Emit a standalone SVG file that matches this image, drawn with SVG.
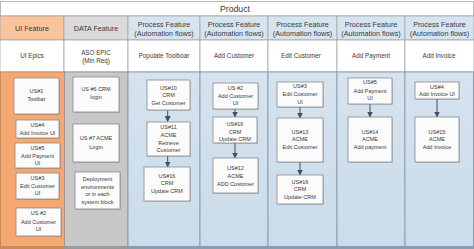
<svg xmlns="http://www.w3.org/2000/svg" width="474" height="249" viewBox="0 0 474 249">
<defs>
<style>
text{font-family:"Liberation Sans",Arial,sans-serif;fill:#3a3a3a;text-anchor:middle}
.h{font-size:7.2px}
.r{font-size:6.3px}
.b{font-size:5.5px}
.t{font-size:8.7px;text-anchor:start}
.box{fill:#fbfbfb;stroke:#8a8a8a;stroke-width:0.8}
.sh{fill:#000;opacity:0.12}
.conn line{stroke:#3e5063;stroke-width:1}
.cell{stroke:#a6a6a6;stroke-width:0.8}
</style>
<marker id="ah" viewBox="0 0 6 6" refX="5.5" refY="3" markerWidth="6" markerHeight="6" markerUnits="userSpaceOnUse" orient="auto">
<path d="M0,0 L6,3 L0,6 Z" fill="#3e5063"/>
</marker>
<linearGradient id="gb" x1="0" y1="0" x2="0" y2="1"><stop offset="0" stop-color="#d6e3ef"/><stop offset="1" stop-color="#cbdbe9"/></linearGradient>
</defs>
<rect x="0" y="0" width="474" height="249" fill="#ffffff"/>
<!-- title bar -->
<rect x="0.5" y="1.5" width="473" height="14.5" fill="#ffffff" stroke="#a6a6a6" stroke-width="0.8"/>
<text class="t" x="220" y="12">Product</text>
<!-- header row -->
<g id="headers">
<rect class="cell" x="0" y="16" width="64" height="24" fill="#f8c49c"/>
<rect class="cell" x="64" y="16" width="64" height="24" fill="#dadada"/>
<rect class="cell" x="128" y="16" width="72" height="24" fill="#d6e4f0"/>
<rect class="cell" x="200" y="16" width="68" height="24" fill="#d6e4f0"/>
<rect class="cell" x="268" y="16" width="69" height="24" fill="#d6e4f0"/>
<rect class="cell" x="337" y="16" width="68" height="24" fill="#d6e4f0"/>
<rect class="cell" x="405" y="16" width="69" height="24" fill="#d6e4f0"/>
<text class="h" x="32" y="30.5">UI Feature</text>
<text class="h" x="96" y="30.5">DATA Feature</text>
<text class="h" x="164" y="26.5">Process Feature</text><text class="h" x="164" y="35.8">(Automation flows)</text>
<text class="h" x="234" y="26.5">Process Feature</text><text class="h" x="234" y="35.8">(Automation flows)</text>
<text class="h" x="302.5" y="26.5">Process Feature</text><text class="h" x="302.5" y="35.8">(Automation flows)</text>
<text class="h" x="371" y="26.5">Process Feature</text><text class="h" x="371" y="35.8">(Automation flows)</text>
<text class="h" x="439.5" y="26.5">Process Feature</text><text class="h" x="439.5" y="35.8">(Automation flows)</text>
</g>
<!-- epic row -->
<g id="epics">
<rect class="cell" x="0" y="40" width="64" height="32" fill="#ffffff"/>
<rect class="cell" x="64" y="40" width="64" height="32" fill="#ffffff"/>
<rect class="cell" x="128" y="40" width="72" height="32" fill="#ffffff"/>
<rect class="cell" x="200" y="40" width="68" height="32" fill="#ffffff"/>
<rect class="cell" x="268" y="40" width="69" height="32" fill="#ffffff"/>
<rect class="cell" x="337" y="40" width="68" height="32" fill="#ffffff"/>
<rect class="cell" x="405" y="40" width="69" height="32" fill="#ffffff"/>
<text class="r" x="32" y="58.2">UI Epics</text>
<text class="r" x="96" y="55">ASO EPIC</text><text class="r" x="96" y="63">(Min Req)</text>
<text class="r" x="164" y="58.2">Populate Toolboar</text>
<text class="r" x="234" y="58.2">Add Customer</text>
<text class="r" x="301" y="58.2">Edit Customer</text>
<text class="r" x="371" y="58.2">Add Payment</text>
<text class="r" x="439" y="58.2">Add Invoice</text>
</g>
<!-- body columns -->
<g id="lanes">
<rect x="0.5" y="72" width="64" height="176" fill="#f5a872" stroke="#c98b5c" stroke-width="1"/>
<rect x="64.5" y="72" width="63.5" height="176" fill="#c8c8c8" stroke="#9a9a9a" stroke-width="1"/>
<rect x="128" y="72" width="72" height="176" fill="url(#gb)" stroke="#8b9fb2" stroke-width="1"/>
<rect x="200" y="72" width="68" height="176" fill="url(#gb)" stroke="#8b9fb2" stroke-width="1"/>
<rect x="268" y="72" width="69" height="176" fill="url(#gb)" stroke="#8b9fb2" stroke-width="1"/>
<rect x="337" y="72" width="68" height="176" fill="url(#gb)" stroke="#8b9fb2" stroke-width="1"/>
<rect x="405" y="72" width="68.5" height="176" fill="url(#gb)" stroke="#8b9fb2" stroke-width="1"/>
<rect x="0" y="246" width="474" height="3" fill="#8a9cae"/>
<rect x="0" y="246" width="64" height="3" fill="#c98b5c"/>
<rect x="64" y="246" width="64" height="3" fill="#9a9a9a"/>
</g>
<!-- connectors -->
<g id="connectors" class="conn">
<line x1="167.7" y1="110.5" x2="167.7" y2="121.5" marker-end="url(#ah)"/>
<line x1="167.7" y1="156" x2="167.7" y2="167" marker-end="url(#ah)"/>
<line x1="235" y1="109" x2="235" y2="117" marker-end="url(#ah)"/>
<line x1="235" y1="143" x2="235" y2="158" marker-end="url(#ah)"/>
<line x1="300" y1="107" x2="300" y2="118" marker-end="url(#ah)"/>
<line x1="300" y1="162" x2="300" y2="175" marker-end="url(#ah)"/>
<line x1="370" y1="104" x2="370" y2="117" marker-end="url(#ah)"/>
<line x1="437" y1="99" x2="437" y2="117" marker-end="url(#ah)"/>
</g>
<!-- UI nodes -->
<g id="us1"><rect class="sh" x="15" y="79" width="45" height="36"/><rect class="box" x="14" y="78" width="45" height="36"/><text class="b" x="36.5" y="93">US#1</text><text class="b" x="36.5" y="101.3">Toolbar</text></g>
<g id="us4ui"><rect class="sh" x="17" y="121" width="43" height="18"/><rect class="box" x="16" y="120" width="43" height="18"/><text class="b" x="37.5" y="127">US#4</text><text class="b" x="37.5" y="134.7">Add Invoice UI</text></g>
<g id="us5ui"><rect class="sh" x="16" y="144" width="45" height="25"/><rect class="box" x="15" y="143" width="45" height="25"/><text class="b" x="37.5" y="149.7">US#5</text><text class="b" x="37.5" y="157.7">Add Payment</text><text class="b" x="37.5" y="165.3">UI</text></g>
<g id="us3ui"><rect class="sh" x="17" y="174" width="43" height="26"/><rect class="box" x="16" y="173" width="43" height="26"/><text class="b" x="37.5" y="180.3">US#3</text><text class="b" x="37.5" y="188">Edit Customer</text><text class="b" x="37.5" y="195.3">UI</text></g>
<g id="us2ui"><rect class="sh" x="17" y="209" width="45" height="28"/><rect class="box" x="16" y="208" width="45" height="28"/><text class="b" x="38.5" y="215.3">US #2</text><text class="b" x="38.5" y="223.7">Add Customer</text><text class="b" x="38.5" y="231">UI</text></g>
<!-- DATA nodes -->
<g id="us6"><rect class="sh" x="74" y="78" width="46" height="35"/><rect class="box" x="73" y="77" width="46" height="35"/><text class="b" x="96" y="91.3">US #6 CRM</text><text class="b" x="96" y="99.3">login</text></g>
<g id="us7"><rect class="sh" x="74" y="125" width="46" height="38"/><rect class="box" x="73" y="124" width="46" height="38"/><text class="b" x="96" y="140.3">US #7 ACME</text><text class="b" x="96" y="148.7">Login</text></g>
<g id="deploy"><rect class="sh" x="76" y="173" width="45" height="37"/><rect class="box" x="75" y="172" width="45" height="37"/><text class="b" x="97.5" y="181.3">Deployment</text><text class="b" x="97.5" y="188.7">environments</text><text class="b" x="97.5" y="196.3">or in each</text><text class="b" x="97.5" y="204.3">system block</text></g>
<!-- Process 1 -->
<g id="us10"><rect class="sh" x="148" y="81" width="43" height="30"/><rect class="box" x="147" y="80" width="43" height="30"/><text class="b" x="168.5" y="89.7">US#10</text><text class="b" x="168.5" y="97">CRM</text><text class="b" x="168.5" y="104.7">Get Customer</text></g>
<g id="us11"><rect class="sh" x="148" y="123" width="43" height="34"/><rect class="box" x="147" y="122" width="43" height="34"/><text class="b" x="168.5" y="129.3">US#11</text><text class="b" x="168.5" y="137">ACME</text><text class="b" x="168.5" y="145">Retrieve</text><text class="b" x="168.5" y="152.3">Customer</text></g>
<g id="us16a"><rect class="sh" x="145" y="168" width="46" height="34"/><rect class="box" x="144" y="167" width="46" height="34"/><text class="b" x="167" y="177.7">US#16</text><text class="b" x="167" y="185.3">CRM</text><text class="b" x="167" y="193.3">Update CRM</text></g>
<!-- Process 2 -->
<g id="us2p"><rect class="sh" x="214" y="84" width="45" height="26"/><rect class="box" x="213" y="83" width="45" height="26"/><text class="b" x="235.5" y="90.3">US #2</text><text class="b" x="235.5" y="97.7">Add Customer</text><text class="b" x="235.5" y="105">UI</text></g>
<g id="us16b"><rect class="sh" x="214" y="118" width="44" height="26"/><rect class="box" x="213" y="117" width="44" height="26"/><text class="b" x="235" y="126">US#16</text><text class="b" x="235" y="133.7">CRM</text><text class="b" x="235" y="141">Update CRM</text></g>
<g id="us12"><rect class="sh" x="214" y="159" width="45" height="35"/><rect class="box" x="213" y="158" width="45" height="35"/><text class="b" x="235.5" y="170">US#12</text><text class="b" x="235.5" y="177.7">ACME</text><text class="b" x="235.5" y="186">ADD Customer</text></g>
<!-- Process 3 -->
<g id="us3p"><rect class="sh" x="278" y="83" width="46" height="25"/><rect class="box" x="277" y="82" width="46" height="25"/><text class="b" x="300" y="88">US#3</text><text class="b" x="300" y="96">Edit Customer</text><text class="b" x="300" y="103.7">UI</text></g>
<g id="us13"><rect class="sh" x="278" y="119" width="46" height="44"/><rect class="box" x="277" y="118" width="46" height="44"/><text class="b" x="300" y="134.3">US#13</text><text class="b" x="300" y="141.3">ACME</text><text class="b" x="300" y="148.7">Edit Customer</text></g>
<g id="us16c"><rect class="sh" x="278" y="176" width="46" height="29"/><rect class="box" x="277" y="175" width="46" height="29"/><text class="b" x="300" y="183.7">US#16</text><text class="b" x="300" y="191.3">CRM</text><text class="b" x="300" y="198.7">Update CRM</text></g>
<!-- Process 4 -->
<g id="us5p"><rect class="sh" x="349" y="79" width="44" height="26"/><rect class="box" x="348" y="78" width="44" height="26"/><text class="b" x="370" y="84.3">US#5</text><text class="b" x="370" y="92.7">Add Payment</text><text class="b" x="370" y="100.3">UI</text></g>
<g id="us14"><rect class="sh" x="349" y="118" width="44" height="45"/><rect class="box" x="348" y="117" width="44" height="45"/><text class="b" x="370" y="134.3">US#14</text><text class="b" x="370" y="141.3">ACME</text><text class="b" x="370" y="148.7">Add payment</text></g>
<!-- Process 5 -->
<g id="us4p"><rect class="sh" x="416" y="83" width="44" height="17"/><rect class="box" x="415" y="82" width="44" height="17"/><text class="b" x="437" y="88.7">US#4</text><text class="b" x="437" y="96.3">Add Invoice UI</text></g>
<g id="us15"><rect class="sh" x="416" y="118" width="44" height="45"/><rect class="box" x="415" y="117" width="44" height="45"/><text class="b" x="437" y="134.3">US#15</text><text class="b" x="437" y="141.3">ACME</text><text class="b" x="437" y="148.7">Add Invoice</text></g>
</svg>
